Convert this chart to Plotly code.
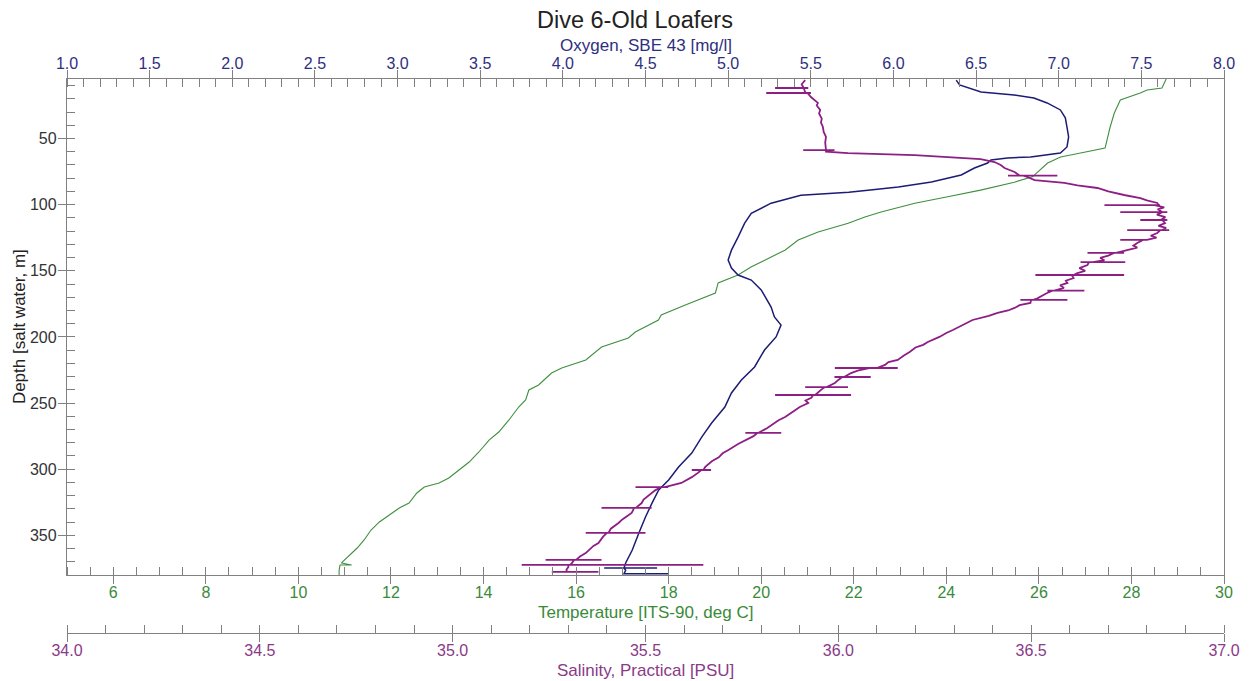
import plotly.graph_objects as go

# ---------------- data ----------------
# Temperature profile (green): depth [m] and temperature [deg C]
temp_depth = [5, 11.8, 13.3, 15.6, 20.9, 30.7, 41.3, 57.2, 61, 64, 68.5, 75.3, 79, 83, 89, 94, 99,
              105.6, 109.3, 114, 120.7, 126.7, 134.3, 147.1, 153.2, 159.2, 166.8, 175.9, 183.4,
              187.2, 196.3, 200.8, 207.6, 217.4, 223.5, 227.3, 236.3, 240.1, 247.7, 253, 262.8,
              271.9, 278, 287, 294.6, 300.6, 306.7, 310.5, 313.5, 318, 325.6, 329.3, 334.6,
              339.9, 346, 353.5, 359.6, 365.6, 370.9, 372.4, 372.4, 376.2, 380]
temp_val = [28.75, 28.66, 28.34, 28.19, 27.76, 27.63, 27.54, 27.43, 26.90, 26.47, 26.19, 25.97,
            25.86, 25.47, 24.74, 24.03, 23.32, 22.59, 22.24, 21.88, 21.23, 20.80, 20.52, 19.78,
            19.50, 19.07, 19.01, 18.36, 17.84, 17.78, 17.28, 17.13, 16.55, 16.21, 15.69, 15.47,
            15.19, 14.98, 14.91, 14.76, 14.55, 14.33, 14.12, 13.90, 13.69, 13.47, 13.25, 13.04,
            12.72, 12.56, 12.39, 12.18, 11.96, 11.75, 11.57, 11.42, 11.27, 11.10, 10.93, 11.15,
            10.90, 10.88, 10.88]

# Oxygen profile (navy): depth [m] and oxygen [mg/l]
oxy_depth = [5.8, 9.5, 14.8, 17.1, 19.4, 23.1, 28.4, 34.4, 41.3, 48.8, 56.4, 60.9, 63.9, 64.7,
             66.2, 68.5, 72.3, 77.6, 82.9, 86.7, 89, 90.6, 92.9, 98.9, 106.5, 114, 124.6, 134.4,
             141.8, 147.9, 153.2, 157, 164.5, 177.4, 184.9, 191, 200, 209.9, 222.7, 232.6, 242.4,
             253, 265.1, 275.7, 287.8, 298.3, 308.2, 315.7, 325.5, 336.1, 348.2, 361.1, 370.9,
             374.7, 374.7, 374.7, 374.7, 376.5, 379, 379, 379, 379]
oxy_val = [6.38, 6.40, 6.53, 6.73, 6.85, 6.93, 7.01, 7.04, 7.05, 7.06, 7.05, 7.01, 6.83, 6.69,
           6.59, 6.57, 6.49, 6.41, 6.23, 6.03, 5.86, 5.73, 5.44, 5.26, 5.14, 5.10, 5.06, 5.02,
           5.00, 5.02, 5.06, 5.14, 5.20, 5.26, 5.28, 5.32, 5.29, 5.22, 5.16, 5.08, 5.02, 4.98,
           4.90, 4.84, 4.78, 4.70, 4.64, 4.58, 4.54, 4.50, 4.46, 4.42, 4.38,
           4.37, 4.25, 4.57, 4.37, 4.38, 4.37, 4.38, 4.64, 4.37]

# Salinity profile (purple): depth [m] and salinity [PSU], horizontal spikes as read
sal_depth_top = [5.8, 9, 11.8, 11.8, 11.8, 11.8, 15.6, 15.6, 15.6, 15.6, 18.6, 21, 23.1, 25, 28.4,
                 31, 35, 38, 41.3, 45, 48.8, 53, 57.2, 58.7, 58.7, 58.7, 58.7, 60, 61, 62.5, 64,
                 65.5, 67.8, 70, 72.3, 75.3, 78, 78, 78, 78, 79.1, 81.4, 83.6, 85.5, 87.4, 90,
                 92.7, 95, 96.8, 98.7]
sal_val_top = [35.914, 35.905, 35.91, 35.836, 35.922, 35.91, 35.915, 35.813, 35.929, 35.92,
               35.929, 35.94, 35.947, 35.944, 35.953, 35.950, 35.957, 35.955, 35.960, 35.962,
               35.968, 35.966, 35.968, 35.968, 35.909, 35.99, 35.968, 35.968, 36.025, 36.198,
               36.284, 36.369, 36.405, 36.421, 36.431, 36.457, 36.47, 36.44, 36.568, 36.48,
               36.49, 36.509, 36.586, 36.62, 36.672, 36.70, 36.741, 36.783, 36.80, 36.827]

sal_depth_max = [100.3, 100.3, 100.3, 100.3, 102, 103.5, 105.6, 105.6, 105.6, 105.6, 107.5, 109.5,
                 111.6, 111.6, 111.6, 111.6, 113.9, 116, 117.5, 119.2, 119.2, 119.2, 119.2, 121.4,
                 123.5, 125, 126.7, 126.7, 126.7, 126.7, 129, 131, 132.5, 134.3, 136.5, 136.5,
                 136.5, 136.5, 138.5, 140.3, 142, 143.4, 143.4, 143.4, 143.4, 145.6, 148, 150,
                 151.7, 153.2, 153.2, 153.2, 153.2, 155.5, 157.5, 159.2, 161, 163, 165, 165, 165,
                 165, 167, 169.8, 171, 172, 172, 172, 172]
sal_val_max = [36.83, 36.690, 36.834, 36.82, 36.845, 36.828, 36.84, 36.731, 36.853, 36.84, 36.826,
               36.848, 36.835, 36.783, 36.853, 36.84, 36.847, 36.83, 36.85, 36.84, 36.749, 36.858,
               36.835, 36.827, 36.81, 36.825, 36.80, 36.731, 36.801, 36.79, 36.775, 36.765,
               36.775, 36.749, 36.72, 36.646, 36.741, 36.715, 36.70, 36.679, 36.69, 36.66, 36.628,
               36.744, 36.65, 36.646, 36.625, 36.64, 36.620, 36.61, 36.511, 36.741, 36.605, 36.61,
               36.59, 36.594, 36.575, 36.585, 36.56, 36.542, 36.638, 36.555, 36.54, 36.524,
               36.515, 36.505, 36.472, 36.594, 36.50]

sal_depth_mid = [174.3, 176, 178.1, 180, 181.9, 184, 187.2, 190, 192, 194.8, 197, 200, 203.8, 206,
                 208, 211.4, 214, 217.4, 219, 221.2, 223.5, 223.5, 223.5, 223.5, 225.5, 227.3,
                 230.3, 230.3, 230.3, 230.3, 232.5, 234.8, 237.9, 237.9, 237.9, 237.9, 240, 242.4,
                 243.9, 243.9, 243.9, 243.9, 246, 248, 250]
sal_val_mid = [36.498, 36.47, 36.457, 36.44, 36.413, 36.39, 36.348, 36.33, 36.315, 36.297, 36.28,
               36.262, 36.232, 36.22, 36.20, 36.185, 36.17, 36.154, 36.13, 36.121, 36.10, 35.991,
               36.154, 36.08, 36.05, 36.033, 36.015, 35.99, 36.084, 36.01, 36.0, 35.991, 35.97,
               35.914, 36.025, 35.965, 35.955, 35.947, 35.94, 35.836, 36.033, 35.935, 35.93,
               35.915, 35.922]

sal_depth_deep = [253, 256, 258, 260.5, 263, 266, 269, 272.6, 272.6, 272.6, 272.6, 275, 278, 281,
                  285.5, 288, 291, 294, 298.3, 300.6, 300.6, 300.6, 300.6, 303, 306, 310.4, 312,
                  313.5, 313.5, 313.5, 313.5, 316, 318, 321, 323, 325.6, 329.3, 329.3, 329.3,
                  329.3, 331, 333.1, 336, 338, 340.7, 343, 345, 348.2, 348.2, 348.2, 348.2, 351,
                  353, 355.8, 358, 361, 363.4, 366, 368.6, 368.6, 368.6, 368.6, 371, 372.4, 372.4,
                  372.4, 372.4, 374, 376, 377.7, 377.7, 377.7, 377.7]
sal_val_deep = [35.90, 35.885, 35.875, 35.862, 35.845, 35.83, 35.815, 35.792, 35.759, 35.852,
                35.79, 35.78, 35.76, 35.74, 35.715, 35.70, 35.69, 35.672, 35.655, 35.65, 35.62,
                35.67, 35.645, 35.635, 35.62, 35.593, 35.57, 35.55, 35.474, 35.559, 35.54, 35.525,
                35.516, 35.505, 35.495, 35.490, 35.475, 35.386, 35.516, 35.47, 35.468, 35.464,
                35.45, 35.44, 35.430, 35.42, 35.41, 35.404, 35.345, 35.50, 35.40, 35.39, 35.385,
                35.378, 35.365, 35.355, 35.345, 35.33, 35.32, 35.241, 35.386, 35.315, 35.309,
                35.305, 35.179, 35.650, 35.30, 35.30, 35.295, 35.296, 35.257, 35.378, 35.296]

title_text = "Dive 6-Old Loafers"
oxy_title = "Oxygen, SBE 43 [mg/l]"
temp_title = "Temperature [ITS-90, deg C]"
sal_title = "Salinity, Practical [PSU]"
depth_title = "Depth [salt water, m]"

for a, b in [(temp_depth, temp_val), (oxy_depth, oxy_val), (sal_depth_top, sal_val_top),
             (sal_depth_max, sal_val_max), (sal_depth_mid, sal_val_mid),
             (sal_depth_deep, sal_val_deep)]:
    assert len(a) == len(b), (len(a), len(b))

sal_depth = sal_depth_top + sal_depth_max + sal_depth_mid + sal_depth_deep
sal_val = sal_val_top + sal_val_max + sal_val_mid + sal_val_deep

# ---------------- styling ----------------
FONT = "Arial, Liberation Sans, sans-serif"
AX = "#808080"
C_OXY_L, C_OXY_T = "#1c1c74", "#2f2f80"
C_TMP_L, C_TMP_T = "#3f8f3f", "#3a8a3a"
C_SAL_L, C_SAL_T = "#8c1e84", "#8a3a87"
TL = 8
TICKSZ = 16
TITLESZ = 17

fig = go.Figure()
fig.add_trace(go.Scatter(x=temp_val, y=temp_depth, mode="lines", xaxis="x", yaxis="y",
                         line=dict(color=C_TMP_L, width=1.1), showlegend=False))
fig.add_trace(go.Scatter(x=oxy_val, y=oxy_depth, mode="lines", xaxis="x2", yaxis="y",
                         line=dict(color=C_OXY_L, width=1.5), showlegend=False))
fig.add_trace(go.Scatter(x=sal_val, y=sal_depth, mode="lines", xaxis="x3", yaxis="y",
                         line=dict(color=C_SAL_L, width=1.8), showlegend=False))

ydom = [(633 - 575) / 554, 1]

def xax(rng, dtick, mdtick, color, fmt=None, **kw):
    d = dict(range=rng, dtick=dtick, tick0=0, showline=True, linecolor=AX, linewidth=1.3,
             ticks="outside", ticklen=TL, tickcolor=AX, tickwidth=1.2, showgrid=False,
             zeroline=False, tickfont=dict(family=FONT, size=TICKSZ, color=color),
             minor=dict(dtick=mdtick, tick0=0, ticks="inside", ticklen=TL, tickcolor=AX,
                        tickwidth=1.1, showgrid=False))
    if fmt:
        d["tickformat"] = fmt
    d.update(kw)
    return d

def dup(rng, dtick, **kw):
    d = dict(range=rng, dtick=dtick, tick0=0, showline=False, ticks="inside", ticklen=TL,
             tickcolor=AX, tickwidth=1.2, showticklabels=False, showgrid=False, zeroline=False)
    d.update(kw)
    return d

fig.update_layout(
    width=1252, height=681,
    margin=dict(l=67, r=25, t=79, b=48),
    paper_bgcolor="white", plot_bgcolor="white",
    font=dict(family=FONT),
    xaxis=xax([5, 30], 2, 0.5, C_TMP_T, anchor="y", side="bottom", ticklabelstandoff=-5),
    xaxis2=xax([1, 8], 0.5, 0.1, C_OXY_T, ".1f", anchor="y", side="top", overlaying="x",
               ticklabelstandoff=-6),
    xaxis3=xax([34, 37], 0.5, 0.1, C_SAL_T, ".1f", anchor="free", position=0, overlaying="x",
               ticklabelstandoff=-5),
    xaxis4=dup([5, 30], 2, anchor="y", side="bottom", overlaying="x"),
    xaxis5=dup([1, 8], 0.5, anchor="y", side="top", overlaying="x"),
    xaxis6=dup([34, 37], 0.5, anchor="free", position=0, overlaying="x"),
    yaxis=dict(domain=ydom, range=[380, 5], dtick=50, tick0=0, showline=True, linecolor=AX,
               linewidth=1.3, mirror=True, ticks="outside", ticklen=TL, tickcolor=AX,
               tickwidth=1.2, showgrid=False, zeroline=False, ticklabelstandoff=-2,
               tickfont=dict(family=FONT, size=TICKSZ, color="#333333"),
               minor=dict(dtick=10, tick0=0, ticks="inside", ticklen=TL, tickcolor=AX,
                          tickwidth=1.1, showgrid=False)),
    yaxis2=dict(domain=ydom, range=[380, 5], dtick=50, tick0=0, overlaying="y", anchor="x",
                side="left", showline=False, ticks="inside", ticklen=TL, tickcolor=AX,
                tickwidth=1.2, showticklabels=False, showgrid=False, zeroline=False),
)

def ann(text, x, y, size, color, angle=0):
    fig.add_annotation(text=text, x=x, y=y, xref="paper", yref="paper", showarrow=False,
                       xanchor="center", yanchor="middle", textangle=angle,
                       font=dict(family=FONT, size=size, color=color))

ann(title_text, (636 - 67) / 1160, (633 - 20) / 554, 23.5, "#222222")
ann(oxy_title, 0.5, (633 - 45) / 554, TITLESZ, C_OXY_T)
ann(temp_title, 0.5, (633 - 612) / 554, TITLESZ, C_TMP_T)
ann(sal_title, 0.5, (633 - 670) / 554, TITLESZ, C_SAL_T)
ann(depth_title, (19 - 67) / 1160, (633 - 327) / 554, TITLESZ, "#222222", -90)

fig.write_html("out.html")
